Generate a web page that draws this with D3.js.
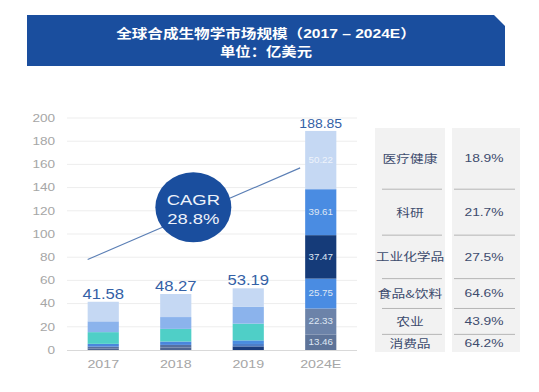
<!DOCTYPE html>
<html>
<head>
<meta charset="utf-8">
<script src="https://cdn.jsdelivr.net/npm/d3@7/dist/d3.min.js"></script>
<style>
  html, body { margin: 0; padding: 0; background: #ffffff; }
  svg { display: block; }
  text { font-family: "Liberation Sans", Arial, "Noto Sans CJK SC", sans-serif; }
</style>
</head>
<body>
<svg id="chart" width="539" height="392"></svg>
<script>
// ---------------- data ----------------
const years = ["2017", "2018", "2019", "2024E"];
// segments, bottom -> top
const segmentNames = ["消费品", "农业", "食品&饮料", "工业化学品", "科研", "医疗健康"];
const consumer    = [1.4, 2.2, 3.1, 13.46];
const agriculture = [1.5, 2.2, 2.1, 22.33];
const food        = [2.4, 2.9, 3.1, 25.75];
const chemicals   = [10.1, 10.9, 14.4, 37.47];
const research    = [9.3, 10.2, 14.7, 39.61];
const healthcare  = [16.88, 19.87, 15.79, 50.22];
const totals      = [41.58, 48.27, 53.19, 188.85];
const segmentCagr = ["64.2%", "43.9%", "64.6%", "27.5%", "21.7%", "18.9%"]; // bottom -> top
const yTicks = [0, 20, 40, 60, 80, 100, 120, 140, 160, 180, 200];
const overallCagr = "28.8%";
const trendFrom = 78, trendTo = 157;
const titleLine1 = "全球合成生物学市场规模（2017 – 2024E）";
const titleLine2 = "单位：亿美元";

// ---------------- styles ----------------
const segColors = {
  "2017":  ["#4f6591", "#56709f", "#4a86dc", "#4fcfc7", "#8bb3ec", "#c5d8f3"],
  "2018":  ["#4f6591", "#56709f", "#4a86dc", "#4fcfc7", "#8bb3ec", "#c5d8f3"],
  "2019":  ["#1b3d7e", "#4f7fc8", "#4a8ce0", "#4fcfc7", "#8bb3ec", "#c5d8f3"],
  "2024E": ["#5e7499", "#6c83a9", "#4a8ce2", "#153b79", "#4a8ce2", "#c5d8f3"]
};

const svg = d3.select("#chart");
const seriesArrays = [consumer, agriculture, food, chemicals, research, healthcare];
const rows = years.map((yr, i) => {
  const r = { year: yr };
  segmentNames.forEach((s, j) => r[s] = seriesArrays[j][i]);
  return r;
});
const stacked = d3.stack().keys(segmentNames)(rows);

const xs = d3.scaleBand().domain(years).range([67, 357]).paddingInner(0.57).paddingOuter(0.285);
const ys = d3.scaleLinear().domain([0, 200]).range([350, 118]);

function wtext(g, x, y, str, o) {
  return g.append("text")
    .attr("transform", `translate(${x},${y}) scale(${o.sx || 1.2},1)`)
    .attr("text-anchor", o.anchor || "middle")
    .attr("dominant-baseline", o.baseline || "auto")
    .attr("font-size", o.size)
    .attr("font-weight", o.weight || "normal")
    .attr("fill", o.fill)
    .style("font-family", o.family || null)
    .text(str);
}

// ---------------- title banner ----------------
svg.append("path")
  .attr("d", "M27,15 H494 L505,26 V66 H27 Z")
  .attr("fill", "#1a4e9e");
wtext(svg, 266, 38, titleLine1, { size: 13, weight: "bold", fill: "#ffffff", sx: 1.2 });
wtext(svg, 266, 56, titleLine2, { size: 13, weight: "bold", fill: "#ffffff", sx: 1.18 });

// ---------------- grid ----------------
svg.append("g").selectAll("line").data(yTicks.filter(d => d > 0)).join("line")
  .attr("x1", 67).attr("x2", 357)
  .attr("y1", d => ys(d)).attr("y2", d => ys(d))
  .attr("stroke", "#ededed").attr("stroke-width", 1);

// y axis labels
const yAxis = svg.append("g").attr("transform", "translate(67,0)")
  .call(d3.axisLeft(ys).tickValues(yTicks).tickSize(0).tickPadding(9));
yAxis.select(".domain").remove();
yAxis.selectAll("text")
  .attr("font-size", 10.2).attr("fill", "#a6a6a6")
  .style("font-family", "'Liberation Sans', Arial, sans-serif")
  .attr("transform", "scale(1.33,1)");

// ---------------- bars ----------------
const barG = svg.append("g");
stacked.forEach((layer, j) => {
  barG.selectAll(null).data(layer).join("rect")
    .attr("x", d => xs(d.data.year))
    .attr("width", xs.bandwidth())
    .attr("y", d => ys(d[1]))
    .attr("height", d => ys(d[0]) - ys(d[1]))
    .attr("fill", d => segColors[d.data.year][j]);
});

// x axis
const xAxis = svg.append("g").attr("transform", "translate(0,350)")
  .call(d3.axisBottom(xs).tickSize(0).tickPadding(10));
xAxis.select(".domain").attr("stroke", "#d9d9d9").attr("d", "M67,0.5H357");
xAxis.selectAll("text")
  .attr("font-size", 11.5).attr("fill", "#a6a6a6")
  .style("font-family", "'Liberation Sans', Arial, sans-serif")
  .attr("transform", "scale(1.24,1)");

// inner labels for 2024E
const lastIdx = years.length - 1;
stacked.forEach((layer, j) => {
  const d = layer[lastIdx];
  const cy = (ys(d[0]) + ys(d[1])) / 2;
  wtext(svg, xs(years[lastIdx]) + xs.bandwidth() / 2, cy, d3.format(".2f")(d[1] - d[0]),
    { size: 8.5, fill: j === 5 ? "#eef3fb" : "#dfe7f4", baseline: "central", sx: 1.15 });
});

// total labels
years.forEach((yr, i) => {
  const big = i < lastIdx;
  wtext(svg, xs(yr) + xs.bandwidth() / 2, ys(totals[i]) - 3, d3.format(".2f")(totals[i]),
    { size: big ? 14 : 12.5, fill: "#3461a6", sx: big ? 1.19 : 1.12 });
});

// ---------------- CAGR annotation ----------------
svg.append("line")
  .attr("x1", xs("2017")).attr("y1", ys(trendFrom))
  .attr("x2", xs("2024E") - 5).attr("y2", ys(trendTo))
  .attr("stroke", "#5b7fb5").attr("stroke-width", 1.1);
const ecx = xs("2018") + xs.bandwidth() + 2, ecy = ys(123);
svg.append("ellipse").attr("cx", ecx).attr("cy", ecy).attr("rx", 38).attr("ry", 35)
  .attr("fill", "#1a4e9e");
wtext(svg, ecx, ecy - 7, "CAGR", { size: 15, fill: "#eef2fa", baseline: "central", sx: 1.23 });
wtext(svg, ecx, ecy + 12, overallCagr, { size: 15, fill: "#eef2fa", baseline: "central", sx: 1.23 });

// ---------------- side table ----------------
const tableTop = 128, tableBottom = 352;
const col1 = [375, 445], col2 = [452, 520];
const tg = svg.append("g");
tg.append("rect").attr("x", col1[0]).attr("y", tableTop).attr("width", col1[1] - col1[0])
  .attr("height", tableBottom - tableTop).attr("fill", "#f2f2f2");
tg.append("rect").attr("x", col2[0]).attr("y", tableTop).attr("width", col2[1] - col2[0])
  .attr("height", tableBottom - tableTop).attr("fill", "#f2f2f2");

stacked.forEach((layer, j) => {
  const d = layer[lastIdx];
  const top = j === segmentNames.length - 1 ? tableTop : ys(d[1]);
  const bot = j === 0 ? tableBottom : ys(d[0]);
  const mid = (top + bot) / 2;
  if (j > 0) {
    tg.append("line").attr("x1", 382).attr("x2", 442).attr("y1", bot).attr("y2", bot)
      .attr("stroke", "#b5b5b5").attr("stroke-width", 1);
    tg.append("line").attr("x1", 454).attr("x2", 515).attr("y1", bot).attr("y2", bot)
      .attr("stroke", "#b5b5b5").attr("stroke-width", 1);
  }
  wtext(tg, (col1[0] + col1[1]) / 2, mid, segmentNames[j],
    { size: 11, fill: "#3e4c6e", baseline: "central", sx: 1.25, family: "'Noto Sans CJK SC', sans-serif" });
  wtext(tg, 484, mid, segmentCagr[j],
    { size: 11.5, fill: "#3e4c6e", baseline: "central", sx: 1.2 });
});
</script>
</body>
</html>
